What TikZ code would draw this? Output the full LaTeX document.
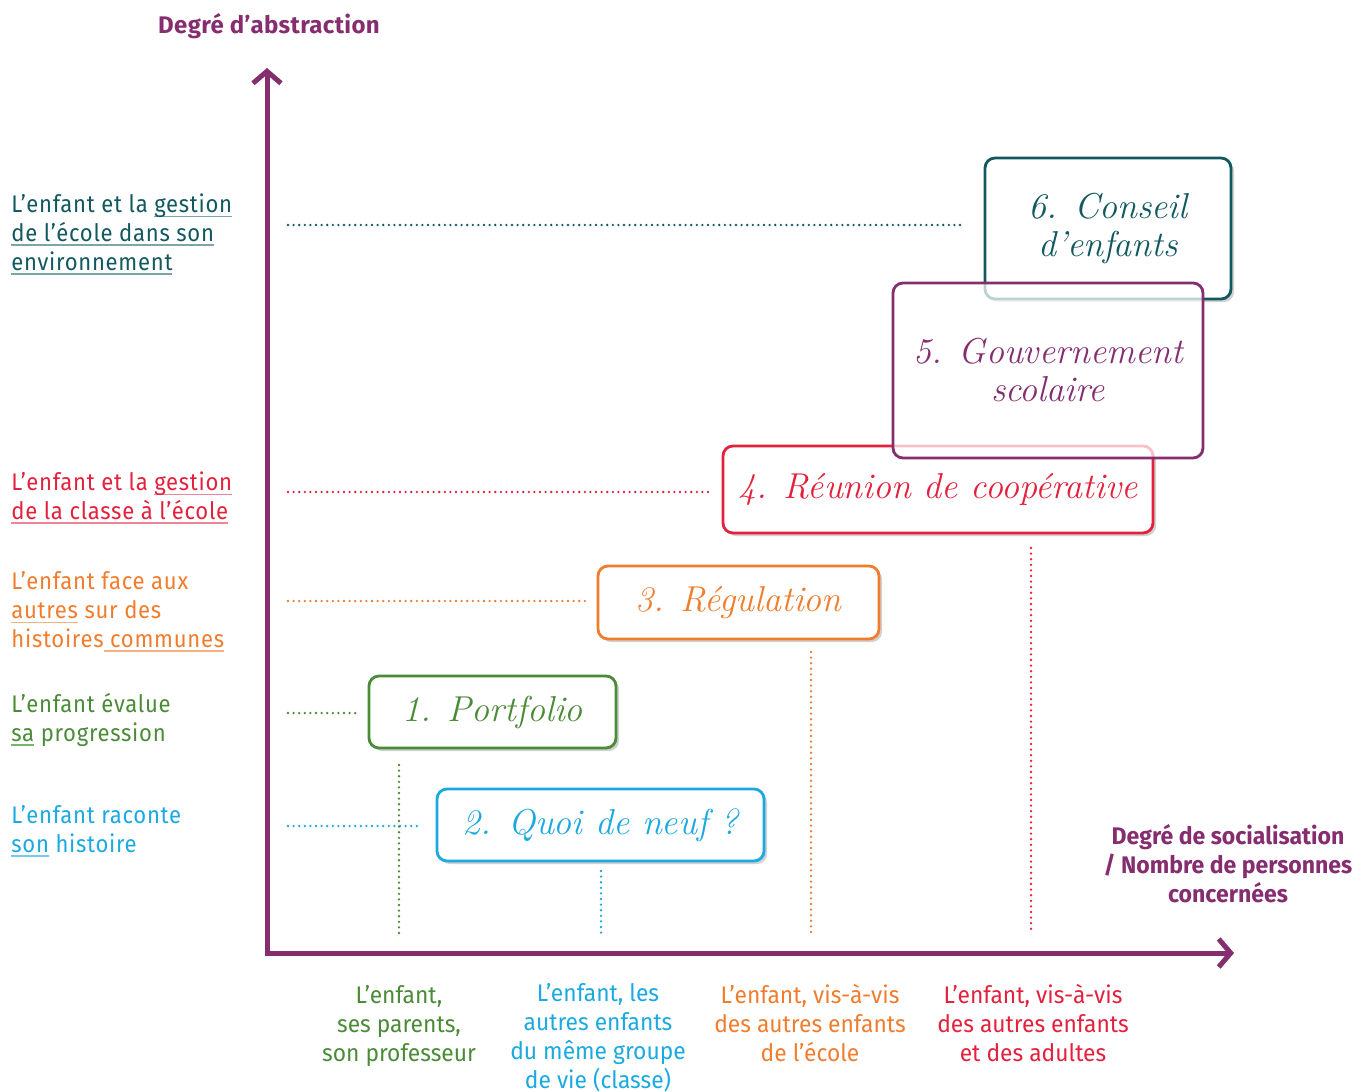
\documentclass[tikz,border=0pt]{standalone}
\usepackage{fontspec}
\setmainfont{Fira Sans}
\newfontfamily\lblfont[LetterSpace=3.0,FakeStretch=0.92]{Fira Sans}
\newfontfamily\condfont[FakeStretch=0.95]{Fira Sans}
\newfontfamily\ttlfont[LetterSpace=1.5]{Fira Sans}
\newfontfamily\xttlfont[FakeStretch=0.96]{Fira Sans}
\usetikzlibrary{arrows.meta,shadows}
\definecolor{cpurple}{HTML}{852D6F}
\definecolor{cteal}{HTML}{12595F}
\definecolor{cred}{HTML}{E3213D}
\definecolor{corange}{HTML}{F07D2E}
\definecolor{cgreen}{HTML}{4A8B37}
\definecolor{cblue}{HTML}{1BA9E1}
\newcommand\ulc[2]{\leavevmode\setbox0\hbox{#2}\rlap{\textcolor{#1}{\rule[-2.3pt]{\wd0}{0.7pt}}}\box0\relax}
\newcommand\scr{\fontfamily{lmr}\fontsize{18}{19}\selectfont\itshape}
\tikzset{
  lbl/.style={anchor=base west, inner sep=0pt, align=left, font=\lblfont\fontsize{12}{14.35}\selectfont},
  blbl/.style={anchor=base, inner sep=0pt, align=center, font=\condfont\fontsize{12}{14.35}\selectfont},
  ttl/.style={anchor=base, inner sep=0pt, align=center, text=cpurple, font=\ttlfont\bfseries\fontsize{12}{14.35}\selectfont},
  stepbox/.style={draw, rounded corners=5pt, line width=1.4pt, fill=white, inner sep=0pt, align=center, font=\scr},
  shadowed/.style={drop shadow={shadow xshift=1.5pt, shadow yshift=-1.5pt, opacity=0.18, fill=black}},
  dotl/.style={line width=1.3pt, dash pattern=on 0pt off 2.8pt, line cap=round},
  axisline/.style={draw=cpurple, line width=2.5pt, -{Straight Barb[length=6pt,width=14pt,line width=2.5pt]}}
}
\begin{document}
\begin{tikzpicture}[x=0.5pt,y=-0.5pt]
\path[use as bounding box] (0,0) rectangle (1368,1091);
% axes
\coordinate (o) at (267,955);
\coordinate (ytop) at (267,68);
\coordinate (xo) at (265,953);
\coordinate (xend) at (1234,953);
\draw[axisline] (o) -- (ytop);
\draw[axisline] (xo) -- (xend);
% axis titles
\node[ttl] (ytitle) at (269,34) {Degré d’abstraction};
\node[ttl, font=\xttlfont\bfseries\fontsize{12}{14.35}\selectfont] (xtitle) at (1228,902) {Degré de socialisation\\/ Nombre de personnes\\concernées};
% left labels (anchored at last baseline)
\node[lbl, text=cteal] (l6) at (11,270) {L’enfant et la \ulc{cteal!55}{gestion}\\\ulc{cteal!55}{de l’école dans son}\\\ulc{cteal!55}{environnement}};
\node[lbl, text=cred] (l4) at (11,519) {L’enfant et la \ulc{cred!55}{gestion}\\\ulc{cred!55}{de la classe à l’école}};
\node[lbl, text=corange] (l3) at (11,647) {L’enfant face aux\\\ulc{corange!60}{autres} sur des\\histoires\ulc{corange!60}{\ communes}};
\node[lbl, text=cgreen] (l1) at (11,741) {L’enfant évalue\\\ulc{cgreen!70}{sa} progression};
\node[lbl, text=cblue] (l2) at (11,852) {L’enfant raconte\\\ulc{cblue!60}{son} histoire};
% bottom labels
\node[blbl, text=cgreen] (x1) at (399,1061) {L’enfant,\\ses parents,\\son professeur};
\node[blbl, text=cblue] (x2) at (598,1088) {L’enfant, les\\autres enfants\\du même groupe\\de vie (classe)};
\node[blbl, text=corange] (x3) at (810,1061) {L’enfant, vis-à-vis\\des autres enfants\\de l’école};
\node[blbl, text=cred] (x4) at (1033,1061) {L’enfant, vis-à-vis\\des autres enfants\\et des adultes};
% dotted guide lines
\coordinate (h6a) at (288,225); \coordinate (h6b) at (965,225);
\coordinate (h4a) at (288,492); \coordinate (h4b) at (708,492);
\coordinate (h3a) at (288,601); \coordinate (h3b) at (585,601);
\coordinate (h1a) at (288,713); \coordinate (h1b) at (356,713);
\coordinate (h2a) at (288,826); \coordinate (h2b) at (420,826);
\coordinate (v1a) at (399,765); \coordinate (v1b) at (399,933);
\coordinate (v2a) at (601,871); \coordinate (v2b) at (601,938);
\coordinate (v3a) at (811,652); \coordinate (v3b) at (811,933);
\coordinate (v4a) at (1031,548); \coordinate (v4b) at (1031,933);
\draw[dotl, cteal] (h6a) -- (h6b);
\draw[dotl, cred] (h4a) -- (h4b);
\draw[dotl, corange] (h3a) -- (h3b);
\draw[dotl, cgreen] (h1a) -- (h1b);
\draw[dotl, cblue] (h2a) -- (h2b);
\draw[dotl, cgreen] (v1a) -- (v1b);
\draw[dotl, cblue] (v2a) -- (v2b);
\draw[dotl, corange] (v3a) -- (v3b);
\draw[dotl, cred] (v4a) -- (v4b);
% boxes
\node[stepbox, shadowed, draw=cteal, text=cteal, minimum width=123pt, minimum height=70.5pt] (b6) at (1108,228.5) {6. Conseil\\d’enfants};
\node[stepbox, shadowed, draw=cred, text=cred, minimum width=215pt, minimum height=43.5pt] (b4) at (938,489.5) {4. Réunion de coopérative};
\node[stepbox, draw=cpurple, text=cpurple, fill opacity=0.72, text opacity=1, draw opacity=1, minimum width=155pt, minimum height=87.5pt] (b5) at (1048,370.5) {5. Gouvernement\\scolaire};
\node[stepbox, shadowed, draw=corange, text=corange, minimum width=140.5pt, minimum height=36.5pt] (b3) at (738.5,602.5) {3. Régulation};
\node[stepbox, shadowed, draw=cgreen, text=cgreen, minimum width=123.5pt, minimum height=36pt] (b1) at (492.5,712) {1. Portfolio};
\node[stepbox, shadowed, draw=cblue, text=cblue, minimum width=163.5pt, minimum height=36pt] (b2) at (600.5,825) {2. Quoi de neuf ?};
\end{tikzpicture}
\end{document}
